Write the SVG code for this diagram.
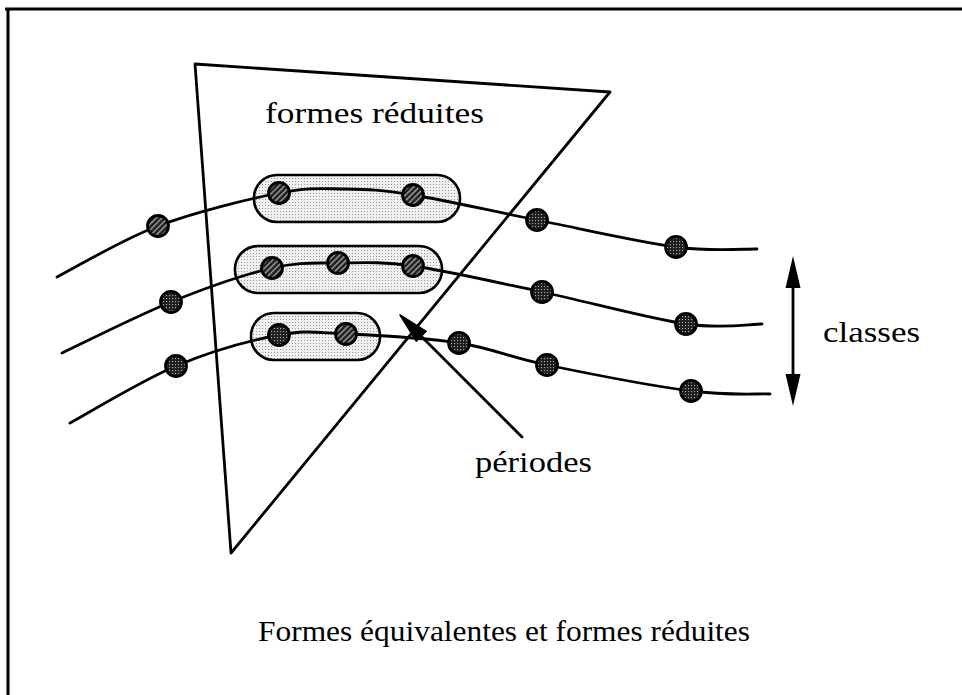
<svg xmlns="http://www.w3.org/2000/svg" width="962" height="695" viewBox="0 0 962 695">
<style>
.ln{fill:none;stroke:#000;stroke-width:2.8;stroke-linecap:round;stroke-linejoin:round}
.pill{fill:url(#stip);stroke:#000;stroke-width:2.6}
.nh{fill:url(#hatch);stroke:#000;stroke-width:2.8}
.nd{fill:url(#dots);stroke:#000;stroke-width:2.8}
.t{font-family:"Liberation Serif","Times New Roman",serif;fill:#000}
</style>
<defs>
<pattern id="hatch" width="4" height="4" patternUnits="userSpaceOnUse" patternTransform="rotate(45)">
<rect width="4" height="4" fill="#1e1e1e"/><rect width="1.3" height="4" fill="#aaa"/>
</pattern>
<pattern id="dots" width="3" height="3" patternUnits="userSpaceOnUse">
<rect width="3" height="3" fill="#1e1e1e"/><rect x="1" y="1" width="1.1" height="1.1" fill="#aaa"/>
</pattern>
<pattern id="stip" width="3" height="3" patternUnits="userSpaceOnUse">
<rect width="3" height="3" fill="#f0f0f0"/><rect x="1" y="1" width="1" height="1" fill="#999"/>
</pattern>
</defs>
<rect width="962" height="695" fill="#fff"/>
<g id="frame">
<line x1="5" y1="9" x2="962" y2="9" stroke="#000" stroke-width="3"/>
<line x1="8" y1="8" x2="8" y2="695" stroke="#000" stroke-width="3"/>
</g>
<g id="pills">
<rect id="pill1" class="pill" x="254" y="175" width="206" height="47" rx="23"/>
<rect id="pill2" class="pill" x="235" y="246" width="207" height="47" rx="23"/>
<rect id="pill3" class="pill" x="251" y="313" width="129" height="47" rx="23"/>
</g>
<g id="triangle">
<polygon class="ln" points="195,64 610,92 231,553"/>
</g>
<g id="connectors">
<path class="ln" d="M57,277 C73.8,268.5 121,240 158,226 C195,212 247.8,199.2 279,193 C310.2,186.8 322.7,188.7 345,189 C367.3,189.3 381,189.8 413,195 C445,200.2 493.2,211.3 537,220 C580.8,228.7 639.3,242.2 676,247 C712.7,251.8 743.5,248.7 757,249"/>
<path class="ln" d="M62,353 C80.2,344.5 136,316.2 171,302 C206,287.8 244.2,274.5 272,268 C299.8,261.5 314.5,263.3 338,263 C361.5,262.7 379,261.2 413,266 C447,270.8 496.5,282.3 542,292 C587.5,301.7 649.3,318.7 686,324 C722.7,329.3 749.3,324 762,324"/>
<path class="ln" d="M70,423 C87.7,413.5 141.2,380.7 176,366 C210.8,351.3 250.7,340.3 279,335 C307.3,329.7 316,332.7 346,334 C376,335.3 425.5,337.8 459,343 C492.5,348.2 508.3,357 547,365 C585.7,373 653.8,386.2 691,391 C728.2,395.8 756.8,393.5 770,394"/>
<line class="ln" x1="522" y1="437" x2="412" y2="327"/>
<polygon points="400,315 426.2,331.3 416.3,341.2" fill="#000" stroke="#000" stroke-width="1.5" stroke-linejoin="round"/>
<line class="ln" x1="793" y1="280" x2="793" y2="382" stroke-width="3"/>
<polygon points="793,256 785.5,288 800.5,288" fill="#000"/>
<polygon points="793,406 785.5,374 800.5,374" fill="#000"/>
</g>
<g id="nodes">
<circle class="nh" cx="158" cy="226" r="10.5"/>
<circle class="nh" cx="279" cy="193" r="10.5"/>
<circle class="nh" cx="413" cy="195" r="10.5"/>
<circle class="nd" cx="537" cy="220" r="10.5"/>
<circle class="nd" cx="676" cy="247" r="10.5"/>
<circle class="nd" cx="171" cy="302" r="10.5"/>
<circle class="nh" cx="272" cy="268" r="10.5"/>
<circle class="nh" cx="338" cy="263" r="10.5"/>
<circle class="nh" cx="413" cy="266" r="10.5"/>
<circle class="nd" cx="542" cy="292" r="10.5"/>
<circle class="nd" cx="686" cy="324" r="10.5"/>
<circle class="nd" cx="176" cy="366" r="10.5"/>
<circle class="nd" cx="279" cy="335" r="10.5"/>
<circle class="nh" cx="346" cy="334" r="10.5"/>
<circle class="nd" cx="459" cy="343" r="10.5"/>
<circle class="nd" cx="547" cy="365" r="10.5"/>
<circle class="nd" cx="691" cy="391" r="10.5"/>
</g>
<g id="labels">
<text class="t" x="265" y="123" font-size="29" textLength="219" lengthAdjust="spacingAndGlyphs">formes réduites</text>
<text class="t" x="823" y="342" font-size="29" textLength="97" lengthAdjust="spacingAndGlyphs">classes</text>
<text class="t" x="475" y="472" font-size="29" textLength="117" lengthAdjust="spacingAndGlyphs">périodes</text>
<text class="t" x="258" y="641" font-size="29" textLength="492" lengthAdjust="spacingAndGlyphs">Formes équivalentes et formes réduites</text>
</g>
</svg>
